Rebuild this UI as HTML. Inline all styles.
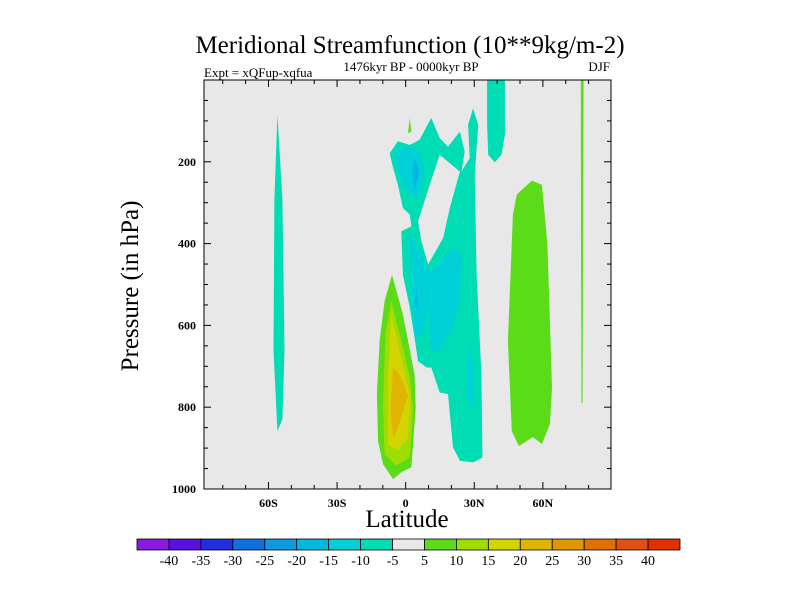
<!DOCTYPE html>
<html><head><meta charset="utf-8"><style>
html,body{margin:0;padding:0;background:#fff;}
svg{display:block;font-family:"Liberation Serif",serif;}
</style></head><body>
<svg id="chart" width="800" height="600" viewBox="0 0 800 600" xmlns="http://www.w3.org/2000/svg">
<text x="410" y="53" text-anchor="middle" font-size="25">Meridional Streamfunction (10**9kg/m-2)</text>
<text x="204" y="77" font-size="13">Expt = xQFup-xqfua</text>
<text x="411" y="71" text-anchor="middle" font-size="13">1476kyr BP - 0000kyr BP</text>
<text x="610" y="71" text-anchor="end" font-size="13">DJF</text>
<g id="plot"></g>
<text transform="translate(138,286) rotate(-90)" text-anchor="middle" font-size="25">Pressure (in hPa)</text>
<text x="407" y="527" text-anchor="middle" font-size="25">Latitude</text>
<g id="cbar"></g>
</svg>
<script>
const latTicks=[-60,-30,0,30,60];
const latLabels=["60S","30S","0","30N","60N"];
const presTicks=[200,400,600,800,1000];
const levels=[-40,-35,-30,-25,-20,-15,-10,-5,5,10,15,20,25,30,35,40];
const levelColors=["#8a1ae0","#5a10e0","#2030e0","#1070e0","#1098e0","#00b8e0","#00d0d8","#00dcb4","#e8e8e8","#5cdc18","#a0dc00","#d4d400","#e0b400","#e09800","#e07000","#e05010","#e03000"];
// contour polygons: [lat, pressure(hPa)] with fill level index
const polyLeftStrip=[[-56.1,85],[-53.9,293],[-53.0,659],[-53.9,829],[-56.1,859],[-57.8,659],[-57.4,293]];
const polyTopStrip=[[35.6,0],[43.4,0],[43.4,134],[41.9,183],[39.0,201],[36.1,183],[35.6,110]];
const polyRightStrip=[[76.6,0],[77.8,0],[77.6,400],[77.4,790],[76.9,790],[76.7,400]];
const polyGreenOval=[[44.7,639],[46.9,329],[48.6,280],[55.2,246],[59.6,256],[62,400],[64.0,751],[63.1,841],[59.6,890],[55.6,873],[49.5,895],[46.4,859]];
const polyTealMain=[[-7.0,179],[-3.4,150],[1.8,159],[6.1,146],[11.2,93],[14.9,142],[18.5,163],[23.7,126],[25.8,175],[24.4,224],[28.0,191],[27.3,110],[29.5,69],[31.7,110],[30.2,232],[31.0,476],[33.1,720],[33.6,923],[29.5,935],[23.7,931],[20.7,898],[18.5,768],[14.9,764],[11.2,703],[9.1,703],[5.4,687],[3.9,630],[1.8,557],[-1.2,476],[-1.9,370],[2.5,358],[1.8,329],[-1.2,313],[-3.4,256],[-5.5,215]];
const polyHole=[[14.9,183],[23.7,224],[19.3,313],[16.4,386],[9.8,451],[6.9,394],[5.4,346],[10.5,256]];
const polyCyan1=[[-4.1,171],[1.8,163],[6.9,179],[8.3,232],[4.7,293],[-1.2,256],[-4.1,207]];
const polyCyan2=[[1.8,378],[6.1,419],[9.1,459],[11.2,467],[20.7,411],[24.4,427],[23.7,541],[20.7,606],[14.2,663],[11.2,663],[9.8,557],[7.6,622],[3.9,630],[2.5,516]];
const polyCyan3=[[28.0,638],[30.2,720],[29.2,809],[26.6,768]];
const polyDark1=[[3.9,191],[6.1,224],[3.9,272],[2.9,224]];
const polyDark2=[[4.7,508],[5.4,557],[3.7,557]];
const polyPlume5=[[-6.0,476],[-1.2,573],[3.9,720],[4.4,801],[2.5,947],[-1.9,959],[-5.5,976],[-9.9,939],[-12.1,882],[-12.6,768],[-11.4,638],[-9.2,541]];
const polyPlume10=[[-6.3,541],[-1.9,638],[1.8,728],[3.2,801],[1.8,923],[-4.1,943],[-9.2,915],[-9.9,801],[-8.8,622]];
const polyPlume15=[[-6.3,573],[-1.9,679],[1.8,768],[1.0,874],[-3.4,906],[-7.7,890],[-7.7,720]];
const polyPlume20=[[-5.5,703],[-2.6,720],[1.0,772],[-3.4,850],[-5.5,874],[-6.7,801]];
const polySmallGreen=[[1.8,93],[2.5,126],[1.0,130]];
const layers=[
 ["left-strip",polyLeftStrip,7],["top-strip",polyTopStrip,7],["right-strip",polyRightStrip,9],
 ["green-oval",polyGreenOval,9],["teal-main",polyTealMain,7],["hole",polyHole,8],
 ["cyan-1",polyCyan1,6],["cyan-2",polyCyan2,6],["cyan-3",polyCyan3,6],
 ["dark-1",polyDark1,5],["dark-2",polyDark2,5],
 ["plume-5",polyPlume5,9],["plume-10",polyPlume10,10],["plume-15",polyPlume15,11],["plume-20",polyPlume20,12],
 ["small-green",polySmallGreen,9]];
const NS="http://www.w3.org/2000/svg";
const X0=204,X1=611,Y0=80,Y1=489,LAT0=-88.2,LAT1=89.8,P0=0,P1=1000;
const xS=l=>X0+(l-LAT0)/(LAT1-LAT0)*(X1-X0);
const yS=p=>Y0+(p-P0)/(P1-P0)*(Y1-Y0);
function mk(tag,attrs,parent){const e=document.createElementNS(NS,tag);for(const k in attrs)e.setAttribute(k,attrs[k]);parent.appendChild(e);return e;}
const plot=document.getElementById('plot');
const bg=mk('rect',{x:X0,y:Y0,width:X1-X0,height:Y1-Y0,fill:'#e8e8e8'},plot);


const cp=mk('clipPath',{id:'clip'},plot);mk('rect',{x:X0,y:Y0,width:X1-X0,height:Y1-Y0},cp);
const g=mk('g',{'clip-path':'url(#clip)'},plot);
layers.forEach(([name,pts,ci])=>{
 const pg=mk('polygon',{points:pts.map(q=>xS(q[0]).toFixed(1)+','+yS(q[1]).toFixed(1)).join(' '),fill:levelColors[ci]},g);
 
 
});
const fr=mk('rect',{x:X0,y:Y0,width:X1-X0,height:Y1-Y0,fill:'none',stroke:'#000','stroke-width':1},plot);


for(let l=-80;l<=80;l+=10){const maj=l%30===0;const len=maj?7:4;const x=xS(l);
 mk('line',{x1:x,x2:x,y1:Y1,y2:Y1-len,stroke:'#000'},plot);mk('line',{x1:x,x2:x,y1:Y0,y2:Y0+len,stroke:'#000'},plot);}
for(let p=50;p<1000;p+=50){const maj=p%200===0;const len=maj?7:4;const y=yS(p);
 mk('line',{x1:X0,x2:X0+len,y1:y,y2:y,stroke:'#000'},plot);mk('line',{x1:X1,x2:X1-len,y1:y,y2:y,stroke:'#000'},plot);}
latTicks.forEach((l,i)=>{const t=mk('text',{x:xS(l),y:Y1+18,'text-anchor':'middle','font-size':12,'font-weight':'bold'},plot);t.textContent=latLabels[i];
 
 });
presTicks.forEach(p=>{const t=mk('text',{x:X0-8,y:yS(p)+4,'text-anchor':'end','font-size':12,'font-weight':'bold'},plot);t.textContent=p;
 
 });
const cb=document.getElementById('cbar');
const CX0=137,CX1=680,CY=539,CH=11,nb=levelColors.length,bw=(CX1-CX0)/nb;
for(let i=0;i<nb;i++){
 const r=mk('rect',{x:CX0+i*bw,y:CY,width:bw,height:CH,fill:levelColors[i],stroke:'#000','stroke-width':0.8},cb);
 
 }
levels.forEach((v,i)=>{const t=mk('text',{x:CX0+(i+1)*bw,y:CY+CH+15,'text-anchor':'middle','font-size':14},cb);t.textContent=v;
 
 });
</script>
</body></html>
